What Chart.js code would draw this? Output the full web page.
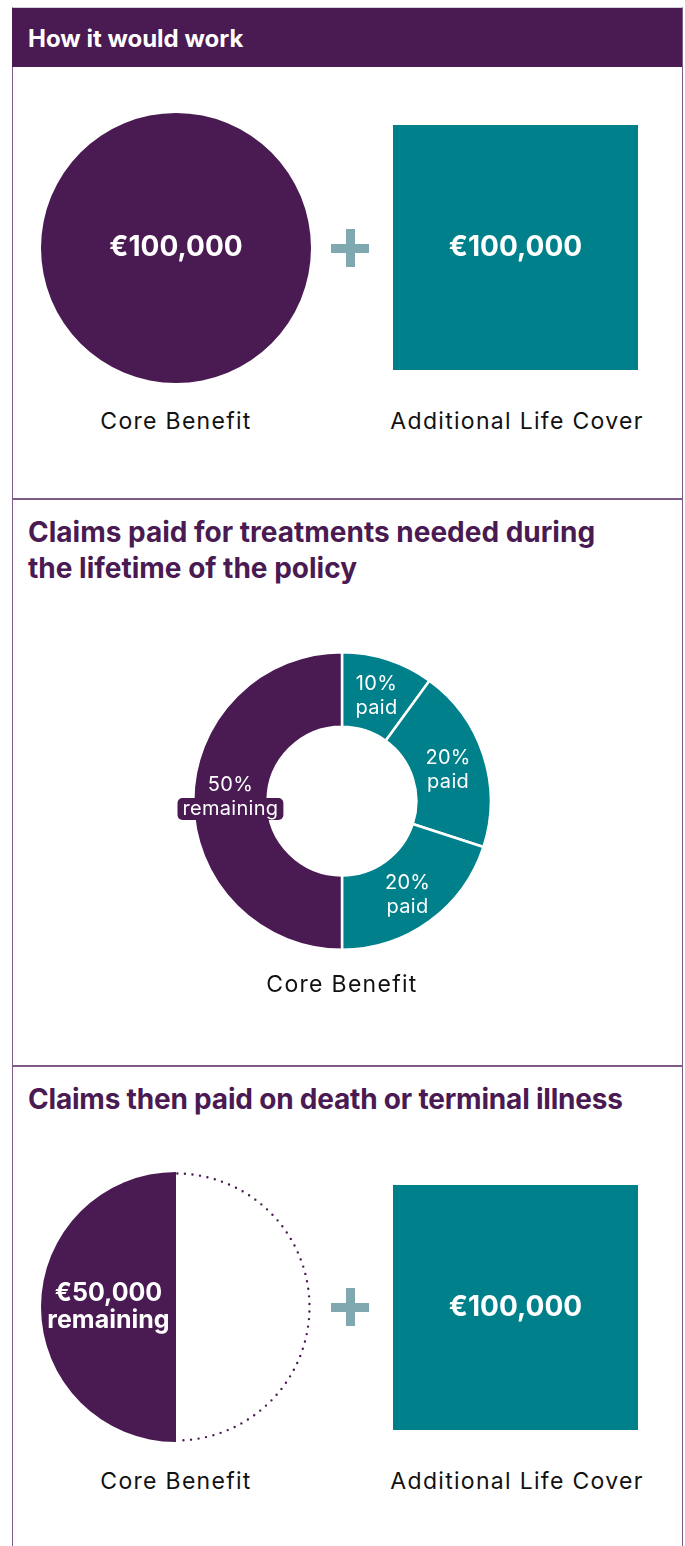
<!DOCTYPE html>
<html>
<head>
<meta charset="utf-8">
<script src="https://cdn.jsdelivr.net/npm/chart.js@4.4.0/dist/chart.umd.min.js"></script>
<style>
    body { margin: 0; background: #fff; width: 685px; height: 1546px; overflow: hidden; position: relative; font-family: Inter, "Noto Sans", sans-serif; }
    .caixa { position: absolute; left: 12px; top: 7px; width: 669px; height: 1560px; border-left: 1.5px solid #7d5a87; border-right: 1.5px solid #7d5a87; border-top: 1px solid #d8cfdc; }
    .cabecalho { position: absolute; left: 12px; top: 8px; width: 670px; height: 59px; background: #4a1a52; }
    .cabecalho span { position: absolute; left: 16px; top: 16px; color: #fff; font-weight: 700; font-size: 24px; letter-spacing: 0; }
    .linha { position: absolute; left: 12px; width: 670px; height: 1.5px; background: #7d5a87; }
    .titulo { position: absolute; left: 28px; color: #4a1a52; font-weight: 700; font-size: 28px; line-height: 36px; letter-spacing: 0; }
    .rotulo { position: absolute; color: #111; font-size: 23px; letter-spacing: 1.3px; transform: translateX(-50%); white-space: nowrap; }
    .mais { position: absolute; width: 38px; height: 38px; }
    .mais::before, .mais::after { content: ""; position: absolute; background: #7fa8b1; }
    .mais::before { left: 0; top: 15px; width: 38px; height: 9px; }
    .mais::after { left: 14.5px; top: 0; width: 9px; height: 38px; }
    canvas { position: absolute; }
</style>
</head>
<body>
<div class="caixa"></div>
<div class="cabecalho"><span>How it would work</span></div>

<canvas id="circulo1" style="left:41px; top:113px;" width="270" height="270"></canvas>
<div class="mais" style="left:331px; top:229px;"></div>
<canvas id="quadrado1" style="left:393px; top:125px;" width="245" height="245"></canvas>
<div class="rotulo" style="left:176px; top:407px;">Core Benefit</div>
<div class="rotulo" style="left:517px; top:407px;">Additional Life Cover</div>

<div class="linha" style="top:498px;"></div>
<div class="titulo" style="top:514px;">Claims paid for treatments needed during<br>the lifetime of the policy</div>
<canvas id="rosca" style="left:172px; top:631px;" width="340" height="340"></canvas>
<div class="rotulo" style="left:342px; top:970px;">Core Benefit</div>

<div class="linha" style="top:1065px;"></div>
<div class="titulo" style="top:1081px; letter-spacing:-0.2px;">Claims then paid on death or terminal illness</div>
<canvas id="circulo2" style="left:41px; top:1172px;" width="270" height="270"></canvas>
<div class="mais" style="left:331px; top:1288px;"></div>
<canvas id="quadrado2" style="left:393px; top:1185px;" width="245" height="245"></canvas>
<div class="rotulo" style="left:176px; top:1467px;">Core Benefit</div>
<div class="rotulo" style="left:517px; top:1467px;">Additional Life Cover</div>

<script>
const ROXO = "#4a1a52";
const VERDE = "#00808a";

// painel 1
const beneficioBase = [100000];
const coberturaAdicional = [100000];

// painel 2 - percentagens do beneficio base
const partes = ["10% paid", "20% paid", "20% paid", "50% remaining"];
const percentuais = [10, 20, 20, 50];
const linhasRotulo = [["10%", "paid"], ["20%", "paid"], ["20%", "paid"], ["50%", "remaining"]];

// painel 3
const partesFinal = ["paid", "remaining"];
const valoresFinal = [50000, 50000];

const fonte = "Inter, 'Noto Sans', sans-serif";
const semExtras = { legend: { display: false }, tooltip: { enabled: false } };

// escreve texto centralizado sobre cada elemento
const textoCentro = {
    id: "textoCentro",
    afterDatasetsDraw(chart, args, opts) {
        const ctx = chart.ctx;
        const meta = chart.getDatasetMeta(0);
        meta.data.forEach((el, i) => {
            const linhas = opts.linhas[i];
            if (!linhas) return;
            let pos;
            if (opts.modo === "origem") pos = { x: el.x, y: el.y };
            else if (opts.modo === "meio") pos = el.getCenterPoint();
            else pos = el.tooltipPosition();
            const x = pos.x;
            const y = pos.y + (opts.dy ? opts.dy[i] || 0 : 0);
            ctx.save();
            ctx.font = opts.fonte;
            ctx.letterSpacing = opts.espaco || "0px";
            ctx.textAlign = "center";
            ctx.textBaseline = "middle";
            const alt = opts.altura;
            const topo = y - (linhas.length - 1) * alt / 2;
            linhas.forEach((t, j) => {
                const ly = topo + j * alt;
                if (opts.caixa && opts.caixa[i] === j) {
                    const w = ctx.measureText(t).width + 10;
                    ctx.fillStyle = ROXO;
                    ctx.beginPath();
                    ctx.roundRect(x - w / 2, ly - 11, w, 22, 5);
                    ctx.fill();
                }
                ctx.fillStyle = "#fff";
                ctx.fillText(t, x, ly);
            });
            ctx.restore();
        });
    }
};

// contorno pontilhado da metade ja paga
const pontilhado = {
    id: "pontilhado",
    afterDatasetsDraw(chart) {
        const arco = chart.getDatasetMeta(0).data[0];
        const ctx = chart.ctx;
        ctx.save();
        ctx.strokeStyle = ROXO;
        ctx.lineWidth = 2.4;
        ctx.lineCap = "round";
        ctx.setLineDash([0, 7.6]);
        ctx.beginPath();
        ctx.arc(arco.x, arco.y, arco.outerRadius - 1.5, arco.startAngle + 0.01, arco.endAngle);
        ctx.stroke();
        ctx.restore();
    }
};

function circulo(id, labels, dados, cores, plugins, opcoesTexto) {
    return new Chart(document.getElementById(id), {
        type: "pie",
        data: { labels: labels, datasets: [{ data: dados, backgroundColor: cores, borderWidth: 0 }] },
        options: {
            responsive: false, animation: false,
            layout: { padding: 0 },
            plugins: Object.assign({ textoCentro: opcoesTexto }, semExtras)
        },
        plugins: plugins
    });
}

function quadrado(id, dados) {
    return new Chart(document.getElementById(id), {
        type: "bar",
        data: { labels: ["Additional Life Cover"], datasets: [{ data: dados, backgroundColor: VERDE, barPercentage: 1, categoryPercentage: 1 }] },
        options: {
            responsive: false, animation: false,
            scales: { x: { display: false }, y: { display: false, min: 0, max: 100000 } },
            plugins: Object.assign({
                textoCentro: { modo: "meio", linhas: [["€100,000"]], fonte: "700 28px " + fonte, altura: 30 }
            }, semExtras)
        },
        plugins: [textoCentro]
    });
}

circulo("circulo1", ["Core Benefit"], beneficioBase, [ROXO], [textoCentro],
    { modo: "origem", linhas: [["€100,000"]], fonte: "700 28px " + fonte, altura: 30 });
quadrado("quadrado1", coberturaAdicional);

new Chart(document.getElementById("rosca"), {
    type: "doughnut",
    data: {
        labels: partes,
        datasets: [{
            data: percentuais,
            backgroundColor: [VERDE, VERDE, VERDE, ROXO],
            borderColor: "#fff",
            borderWidth: 2.5
        }]
    },
    options: {
        responsive: false, animation: false,
        cutout: "50%",
        layout: { padding: 20 },
        plugins: Object.assign({
            textoCentro: { linhas: linhasRotulo, fonte: "400 20px " + fonte, espaco: "0.3px", altura: 24, dy: [1, 3, 4, -4], caixa: [null, null, null, 1] }
        }, semExtras)
    },
    plugins: [textoCentro]
});

circulo("circulo2", partesFinal, valoresFinal, ["rgba(0,0,0,0)", ROXO], [pontilhado, textoCentro],
    { linhas: [null, ["€50,000", "remaining"]], fonte: "700 25px " + fonte, altura: 27, dy: [0, 0] });
quadrado("quadrado2", coberturaAdicional);
</script>
</body>
</html>
